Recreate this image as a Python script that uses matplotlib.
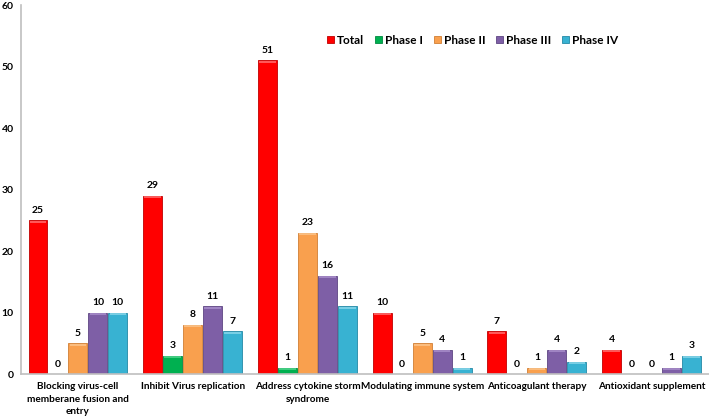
import matplotlib
matplotlib.use("Agg")
import matplotlib.pyplot as plt
import numpy as np

categories = [
    "Blocking virus-cell\nmemberane fusion and\nentry",
    "Inhibit Virus replication",
    "Address cytokine storm\nsyndrome",
    "Modulating immune system",
    "Anticoagulant therapy",
    "Antioxidant supplement",
]
series_names = ["Total", "Phase I", "Phase II", "Phase III", "Phase IV"]
total = [25, 29, 51, 10, 7, 4]
phase1 = [0, 3, 1, 0, 0, 0]
phase2 = [5, 8, 23, 5, 1, 0]
phase3 = [10, 11, 16, 4, 4, 1]
phase4 = [10, 7, 11, 1, 2, 3]
yticks = [0, 10, 20, 30, 40, 50, 60]

colors = ["#FF0000", "#00B050", "#F9A04E", "#7E5FA6", "#38B2D2"]
edges = ["#C00000", "#008A40", "#D07E34", "#5E4582", "#2489A6"]
tops = ["#FF6A6A", "#4DD48A", "#FCC48A", "#A88DCB", "#86D6EA"]

fig = plt.figure(figsize=(7.09, 4.18), dpi=100)
ax = fig.add_axes([0.029, 0.105, 0.971, 0.883])

plt.rcParams["font.family"] = ["Lato", "DejaVu Sans"]
font = dict(family=["Lato", "DejaVu Sans"], weight="bold")

x = np.arange(len(categories))
step = 0.174
width = 0.165
all_series = [total, phase1, phase2, phase3, phase4]
for i, (name, vals) in enumerate(zip(series_names, all_series)):
    pos = x + (i - 2) * step
    ax.bar(pos, vals, width, color=colors[i], edgecolor=edges[i], linewidth=0.6,
           label=name, zorder=2)
    # light bevel along the top of each bar
    for px, v in zip(pos, vals):
        if v > 0:
            ax.plot([px - width / 2 + 0.01, px + width / 2 - 0.01], [v - 0.25, v - 0.25],
                    color=tops[i], lw=1.2, zorder=3, solid_capstyle="butt")
        ax.text(px, v + 0.9, str(v), ha="center", va="bottom", fontsize=7.5, **font)

ax.set_xlim(-0.5, len(categories) - 0.5)
ax.set_ylim(0, 60)
ax.set_yticks(yticks)
ax.set_yticklabels([str(t) for t in yticks], fontsize=7.5, **font)
ax.set_xticks(x)
ax.set_xticklabels(categories, fontsize=7.2, linespacing=1.45, **font)
ax.tick_params(axis="x", length=0, pad=6)
ax.tick_params(axis="y", length=0, pad=5)

for s in ["top", "right"]:
    ax.spines[s].set_visible(False)
for s in ["left", "bottom"]:
    ax.spines[s].set_color("#BFBFBF")
    ax.spines[s].set_linewidth(1.2)

leg = ax.legend(loc="center left", bbox_to_anchor=(0.43, 0.905), ncol=5, frameon=False,
                handlelength=0.6, handleheight=0.6, handletextpad=0.25, columnspacing=0.9,
                prop=dict(family=["Lato", "DejaVu Sans"], weight="bold", size=8.5))

fig.savefig("out.png", dpi=100)
